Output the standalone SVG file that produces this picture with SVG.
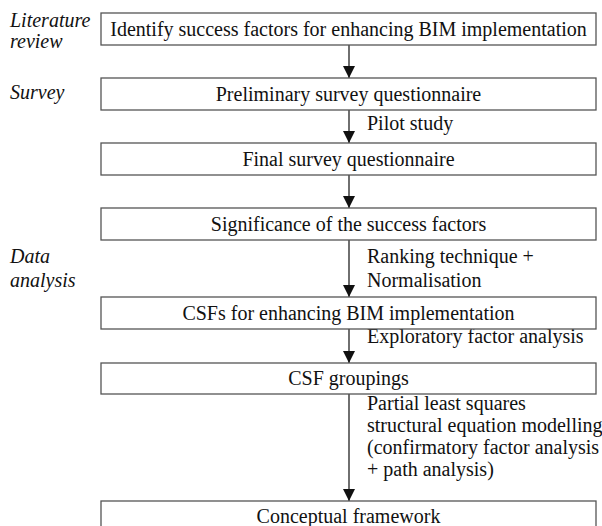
<svg xmlns="http://www.w3.org/2000/svg" width="602" height="526" viewBox="0 0 602 526">
<style>
.box{fill:#fff;stroke:#555;stroke-width:1.3}
.t{font-family:"Liberation Serif","Times New Roman",serif;font-size:20px;fill:#111}
.c{text-anchor:middle}
.i{font-style:italic}
.line{stroke:#222;stroke-width:1.3;fill:none}
</style>
<defs>
<marker id="ah" markerWidth="12" markerHeight="12" refX="12" refY="6" orient="auto" markerUnits="userSpaceOnUse">
<path d="M0,0 L12,6 L0,12 z" fill="#111"/>
</marker>
</defs>
<rect width="602" height="526" fill="#fff"/>
<g id="phases">
<text class="t i" x="10" y="27">Literature</text>
<text class="t i" x="10" y="48">review</text>
<text class="t i" x="10" y="99">Survey</text>
<text class="t i" x="10" y="263">Data</text>
<text class="t i" x="10" y="287">analysis</text>
</g>
<g id="connectors">
<line class="line" x1="349" y1="45" x2="349" y2="78" marker-end="url(#ah)"/>
<line class="line" x1="349" y1="110" x2="349" y2="143" marker-end="url(#ah)"/>
<line class="line" x1="349" y1="175" x2="349" y2="208" marker-end="url(#ah)"/>
<line class="line" x1="349" y1="240" x2="349" y2="297" marker-end="url(#ah)"/>
<line class="line" x1="349" y1="329" x2="349" y2="363" marker-end="url(#ah)"/>
<line class="line" x1="349" y1="394" x2="349" y2="501" marker-end="url(#ah)"/>
<text class="t" x="367" y="130">Pilot study</text>
<text class="t" x="367" y="263">Ranking technique +</text>
<text class="t" x="367" y="287">Normalisation</text>
<text class="t" x="367" y="343">Exploratory factor analysis</text>
<text class="t" x="367" y="410">Partial least squares</text>
<text class="t" x="367" y="432">structural equation modelling</text>
<text class="t" x="367" y="454">(confirmatory factor analysis</text>
<text class="t" x="367" y="476">+ path analysis)</text>
</g>
<g id="n1"><rect class="box" x="101" y="13" width="495" height="32"/><text class="t c" x="348.5" y="35.5">Identify success factors for enhancing BIM implementation</text></g>
<g id="n2"><rect class="box" x="101" y="78" width="495" height="32"/><text class="t c" x="348.5" y="100.5">Preliminary survey questionnaire</text></g>
<g id="n3"><rect class="box" x="101" y="143" width="495" height="32"/><text class="t c" x="348.5" y="165.5">Final survey questionnaire</text></g>
<g id="n4"><rect class="box" x="101" y="208" width="495" height="32"/><text class="t c" x="348.5" y="230.5">Significance of the success factors</text></g>
<g id="n5"><rect class="box" x="101" y="297" width="495" height="32"/><text class="t c" x="348.5" y="319.5">CSFs for enhancing BIM implementation</text></g>
<g id="n6"><rect class="box" x="101" y="363" width="495" height="31"/><text class="t c" x="348.5" y="385">CSF groupings</text></g>
<g id="n7"><rect class="box" x="101" y="501" width="495" height="32"/><text class="t c" x="348.5" y="523">Conceptual framework</text></g>
</svg>
